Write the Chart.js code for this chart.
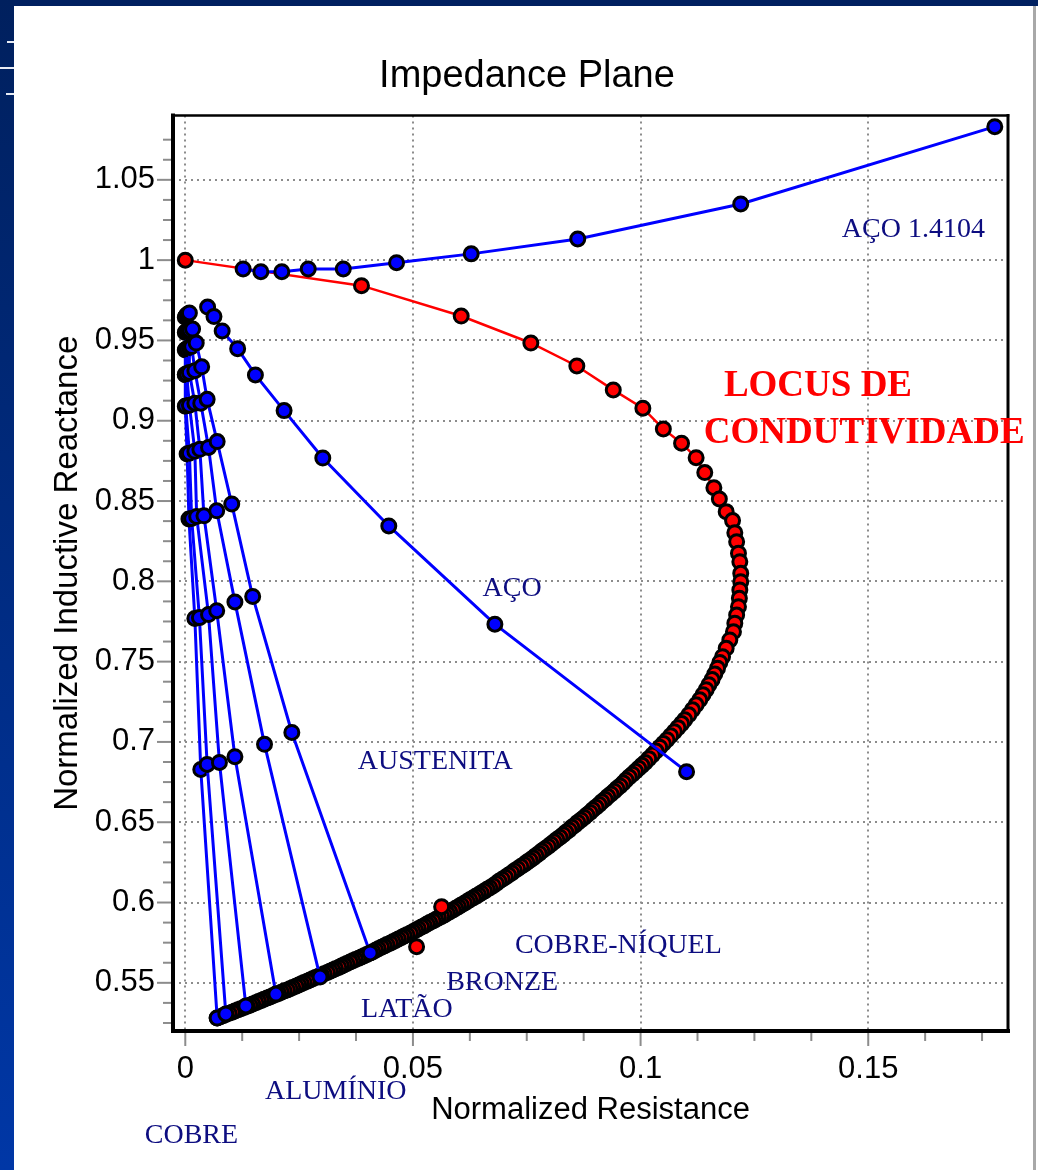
<!DOCTYPE html>
<html lang="pt-BR">
<head>
<meta charset="UTF-8">
<title>Impedance Plane</title>
<script src="https://cdn.jsdelivr.net/npm/chart.js@4.4.1/dist/chart.umd.min.js"></script>
<style>
  body { margin: 0; background: #fff; }
  .slide { position: relative; width: 1038px; height: 1170px; overflow: hidden; background: #fff; }
  .slide canvas { position: absolute; left: 0; top: 0; }
  .faixa-topo { position: absolute; left: 0; top: 0; width: 1038px; height: 6px; background: #002060; }
  .faixa-esq { position: absolute; left: 0; top: 0; width: 14px; height: 1170px; background: linear-gradient(#00205e, #0037a6); }
  .linha-dir { position: absolute; left: 1033px; top: 6px; width: 3px; height: 1164px; background: #a8a8a8; }
  .risco { position: absolute; height: 2px; background: #e8ecf5; }
</style>
</head>
<body>
<div class="slide">
  <canvas id="graficoImpedancia" width="1038" height="1170"></canvas>
  <div class="faixa-topo"></div>
  <div class="faixa-esq"></div>
  <div class="linha-dir"></div>
  <!-- pedacos de texto cortados na borda do slide -->
  <div class="risco" style="left:7px; top:41px; width:7px;"></div>
  <div class="risco" style="left:0; top:67px; width:14px;"></div>
  <div class="risco" style="left:6px; top:93px; width:8px;"></div>
</div>
<script>
// rotulos dos eixos
const xTickLabels = ['0', '0.05', '0.1', '0.15'];
const yTickLabels = ['0.55', '0.6', '0.65', '0.7', '0.75', '0.8', '0.85', '0.9', '0.95', '1', '1.05'];

// locus de condutividade (resistencia / reatancia normalizadas)
// no fim da curva os pontos ficam tao juntos que viram uma faixa preta
const locusR = [0, 0.0387, 0.0606, 0.0759, 0.0860, 0.0940, 0.1005, 0.1050, 0.1090, 0.1122, 0.1141, 0.1161, 0.1173, 0.1188, 0.1202,
  0.1207, 0.1211, 0.1215, 0.1218, 0.1220, 0.1220, 0.1218, 0.1217, 0.1215, 0.1211, 0.1207, 0.1204, 0.1196, 0.1188, 0.1180,
  0.1174, 0.1169, 0.1163, 0.1157,
  0.1150, 0.1144, 0.1137, 0.1130,
  0.1122, 0.1114, 0.1106, 0.1097,
  0.1090, 0.1082, 0.1074, 0.1066, 0.1058,
  0.1050, 0.1042, 0.1034, 0.1026, 0.1018, 0.1010,
  0.1003, 0.0996, 0.0989, 0.0982, 0.0975, 0.0968, 0.0962, 0.0955,
  0.0948, 0.0942, 0.0935, 0.0928, 0.0922, 0.0915, 0.0909, 0.0902, 0.0895, 0.0889,
  0.0882, 0.0876, 0.0869, 0.0862, 0.0856, 0.0849, 0.0843, 0.0836, 0.0830, 0.0823,
  0.0816, 0.0810, 0.0803, 0.0797, 0.0790, 0.0783, 0.0777, 0.0770, 0.0764, 0.0757,
  0.0750, 0.0744, 0.0737, 0.0730, 0.0723, 0.0717, 0.0710, 0.0703, 0.0696, 0.0689, 0.0683, 0.0676, 0.0669,
  0.0663, 0.0657, 0.0650, 0.0644, 0.0638, 0.0632, 0.0625, 0.0619, 0.0613, 0.0606, 0.0600, 0.0594, 0.0588, 0.0581,
  0.0575, 0.0569, 0.0563, 0.0556, 0.0550, 0.0544, 0.0537, 0.0531, 0.0525, 0.0519, 0.0512, 0.0506, 0.0500, 0.0494,
  0.0487, 0.0481, 0.0475, 0.0468, 0.0462, 0.0456, 0.0450, 0.0443, 0.0437, 0.0431, 0.0424, 0.0418, 0.0412, 0.0406,
  0.0399, 0.0393, 0.0387, 0.0381, 0.0374, 0.0368, 0.0362, 0.0355, 0.0349, 0.0343, 0.0337, 0.0330, 0.0324, 0.0318,
  0.0312, 0.0305, 0.0299, 0.0293, 0.0286, 0.0280, 0.0274, 0.0268, 0.0261, 0.0255, 0.0249, 0.0243, 0.0236, 0.0230,
  0.0224, 0.0217, 0.0211, 0.0205, 0.0199, 0.0192, 0.0186, 0.0180, 0.0173, 0.0167, 0.0161, 0.0155, 0.0148, 0.0142,
  0.0136, 0.0129, 0.0122, 0.0116, 0.0109, 0.0103, 0.0096, 0.0089, 0.0083, 0.0076, 0.0070];
const locusX = [1.0, 0.9841, 0.9652, 0.9484, 0.9341, 0.9192, 0.9078, 0.8949, 0.8860, 0.8770, 0.8677, 0.8583, 0.8513, 0.8434, 0.8378,
  0.8303, 0.8247, 0.8175, 0.8122, 0.8050, 0.7998, 0.7946, 0.7894, 0.7842, 0.7790, 0.7739, 0.7686, 0.7635, 0.7583, 0.7531,
  0.7495, 0.7459, 0.7423, 0.7388,
  0.7356, 0.7325, 0.7294, 0.7262,
  0.7231, 0.7200, 0.7169, 0.7138,
  0.7114, 0.7089, 0.7064, 0.7039, 0.7014,
  0.6990, 0.6967, 0.6943, 0.6919, 0.6896, 0.6872,
  0.6854, 0.6836, 0.6817, 0.6799, 0.6781, 0.6763, 0.6744, 0.6726,
  0.6710, 0.6693, 0.6676, 0.6660, 0.6643, 0.6627, 0.6610, 0.6594, 0.6577, 0.6561,
  0.6545, 0.6530, 0.6514, 0.6499, 0.6483, 0.6468, 0.6452, 0.6437, 0.6422, 0.6406,
  0.6392, 0.6378, 0.6363, 0.6349, 0.6335, 0.6321, 0.6306, 0.6292, 0.6278, 0.6264,
  0.6250, 0.6237, 0.6224, 0.6211, 0.6198, 0.6184, 0.6171, 0.6158, 0.6145, 0.6132, 0.6119, 0.6105, 0.6092,
  0.6082, 0.6071, 0.6060, 0.6049, 0.6039, 0.6028, 0.6017, 0.6006, 0.5996, 0.5985, 0.5974, 0.5964, 0.5953, 0.5942,
  0.5933, 0.5923, 0.5913, 0.5904, 0.5894, 0.5885, 0.5875, 0.5866, 0.5856, 0.5847, 0.5837, 0.5827, 0.5818, 0.5808,
  0.5800, 0.5791, 0.5782, 0.5773, 0.5764, 0.5756, 0.5747, 0.5738, 0.5729, 0.5721, 0.5712, 0.5703, 0.5694, 0.5686,
  0.5677, 0.5669, 0.5661, 0.5653, 0.5645, 0.5637, 0.5629, 0.5620, 0.5612, 0.5604, 0.5596, 0.5588, 0.5580, 0.5572,
  0.5564, 0.5556, 0.5548, 0.5541, 0.5533, 0.5525, 0.5517, 0.5510, 0.5502, 0.5494, 0.5487, 0.5479, 0.5471, 0.5463,
  0.5456, 0.5449, 0.5441, 0.5434, 0.5427, 0.5420, 0.5412, 0.5405, 0.5398, 0.5390, 0.5383, 0.5376, 0.5368, 0.5361,
  0.5354, 0.5347, 0.5339, 0.5332, 0.5325, 0.5317, 0.5310, 0.5303, 0.5295, 0.5288, 0.5281];

// pontos vermelhos avulsos
const avulsoR = [0.0563, 0.0508];
const avulsoX = [0.5974, 0.5725];

// aço 1.4104
const aco14104R = [0.0127, 0.0166, 0.0212, 0.0270, 0.0347, 0.0464, 0.0628, 0.0862, 0.1220, 0.1778];
const aco14104X = [0.9945, 0.9928, 0.9928, 0.9945, 0.9945, 0.9984, 1.0039, 1.0132, 1.0350, 1.0831];

// aço
const acoR = [0.0049, 0.0063, 0.0081, 0.0115, 0.0154, 0.0217, 0.0302, 0.0447, 0.0680, 0.1101];
const acoX = [0.9708, 0.9649, 0.9559, 0.9449, 0.9285, 0.9063, 0.8768, 0.8345, 0.7733, 0.6815];

// materiais nao magneticos
const austenitaR = [0.0009, 0.0016, 0.0024, 0.0036, 0.0048, 0.0070, 0.0102, 0.0148, 0.0234, 0.0406];
const austenitaX = [0.9671, 0.9571, 0.9484, 0.9336, 0.9133, 0.8870, 0.8482, 0.7906, 0.7059, 0.5686];
const cuniR = [0.0005, 0.0010, 0.0014, 0.0021, 0.0034, 0.0051, 0.0069, 0.0109, 0.0174, 0.0296];
const cuniX = [0.9663, 0.9563, 0.9462, 0.9312, 0.9109, 0.8834, 0.8439, 0.7872, 0.6985, 0.5536];
const bronzeR = [0.0003, 0.0006, 0.0009, 0.0009, 0.0021, 0.0032, 0.0041, 0.0069, 0.0109, 0.0199];
const bronzeX = [0.9657, 0.9558, 0.9456, 0.9301, 0.9109, 0.8822, 0.8408, 0.7817, 0.6908, 0.5430];
const lataoR = [0.0002, 0.0003, 0.0004, 0.0003, 0.0009, 0.0021, 0.0025, 0.0051, 0.0075, 0.0133];
const lataoX = [0.9652, 0.9555, 0.9448, 0.9292, 0.9097, 0.8810, 0.8403, 0.7793, 0.6872, 0.5356];
const aluminioR = [0.0001, 0.0001, 0.0001, 0.0000, 0.0001, 0.0009, 0.0014, 0.0031, 0.0048, 0.0089];
const aluminioX = [0.9648, 0.9552, 0.9444, 0.9288, 0.9092, 0.8798, 0.8391, 0.7774, 0.6860, 0.5306];
const cobreR = [0.0000, 0.0000, 0.0000, 0.0000, 0.0000, 0.0004, 0.0008, 0.0021, 0.0034, 0.0070];
const cobreX = [0.9645, 0.9550, 0.9441, 0.9286, 0.9090, 0.8793, 0.8388, 0.7769, 0.6829, 0.5281];

const azulEscuro = '#0d0d80';
const fonteSerif = '"Liberation Serif", "Times New Roman", serif';
const fonteSans = '"Liberation Sans", Arial, sans-serif';

// textos escritos sobre o grafico (posicao em unidades dos eixos, canto esquerdo / linha de base)
const anotacoes = [
  { texto: 'AÇO 1.4104', res: 0.1442, reat: 1.0146, cor: azulEscuro, fonte: '28px ' + fonteSerif },
  { texto: 'LOCUS DE', res: 0.1183, reat: 0.9154, cor: '#ff0000', fonte: 'bold 37px ' + fonteSerif },
  { texto: 'CONDUTIVIDADE', res: 0.1139, reat: 0.8862, cor: '#ff0000', fonte: 'bold 37px ' + fonteSerif },
  { texto: 'AÇO', res: 0.0653, reat: 0.7909, cor: azulEscuro, fonte: '28px ' + fonteSerif },
  { texto: 'AUSTENITA', res: 0.0379, reat: 0.6831, cor: azulEscuro, fonte: '28px ' + fonteSerif },
  { texto: 'COBRE-NÍQUEL', res: 0.0724, reat: 0.5686, cor: azulEscuro, fonte: '28px ' + fonteSerif },
  { texto: 'BRONZE', res: 0.0573, reat: 0.5455, cor: azulEscuro, fonte: '28px ' + fonteSerif },
  { texto: 'LATÃO', res: 0.0386, reat: 0.5287, cor: azulEscuro, fonte: '28px ' + fonteSerif },
  { texto: 'ALUMÍNIO', res: 0.0175, reat: 0.4776, cor: azulEscuro, fonte: '28px ' + fonteSerif },
  { texto: 'COBRE', res: -0.0089, reat: 0.4502, cor: azulEscuro, fonte: '28px ' + fonteSerif }
];

function pontos(r, x) {
  return r.map((v, i) => ({ x: v, y: x[i] }));
}

function serieAzul(nome, r, x) {
  return {
    label: nome,
    data: pontos(r, x),
    showLine: true,
    borderColor: '#0000ff',
    borderWidth: 3,
    pointBackgroundColor: '#0000ff',
    pointBorderColor: '#000',
    pointBorderWidth: 3,
    pointRadius: 7
  };
}

// marcas principais (com rotulo) e secundarias a cada 0.0125
function gerarMarcas(rotulos, passo, min, max) {
  const maiores = rotulos.map(Number);
  const lista = [];
  const inicio = maiores[0] - passo * Math.floor((maiores[0] - min) / passo);
  for (let v = inicio; v <= max - 0.003; v += passo) {
    if (v < min + 0.002) continue;
    const valor = Math.round(v * 10000) / 10000;
    lista.push({ value: valor, maior: maiores.some(m => Math.abs(m - valor) < 1e-6) });
  }
  return lista;
}

function rotuloDe(valor, rotulos) {
  const achado = rotulos.find(t => Math.abs(Number(t) - valor) < 1e-6);
  return achado === undefined ? '' : achado;
}

const corGrade = c => (c.tick && c.tick.maior) ? '#8c8c8c' : 'rgba(0,0,0,0)';

const molduraPlugin = {
  id: 'moldura',
  beforeDatasetsDraw(chart) {
    const { ctx, chartArea: a, scales } = chart;
    ctx.save();
    ctx.strokeStyle = '#8c8c8c';
    ctx.lineWidth = 2;
    scales.x.ticks.forEach(t => {
      const px = scales.x.getPixelForValue(t.value);
      ctx.beginPath();
      ctx.moveTo(px, a.bottom);
      ctx.lineTo(px, a.bottom + (t.maior ? 15 : 10));
      ctx.stroke();
    });
    scales.y.ticks.forEach(t => {
      const py = scales.y.getPixelForValue(t.value);
      ctx.beginPath();
      ctx.moveTo(a.left, py);
      ctx.lineTo(a.left - (t.maior ? 16 : 10), py);
      ctx.stroke();
    });
    // caixa preta em volta da area do grafico
    ctx.strokeStyle = '#000';
    ctx.lineCap = 'square';
    const linha = (x1, y1, x2, y2, w) => {
      ctx.lineWidth = w;
      ctx.beginPath();
      ctx.moveTo(x1, y1);
      ctx.lineTo(x2, y2);
      ctx.stroke();
    };
    linha(a.left, a.top, a.right, a.top, 2.5);
    linha(a.right, a.top, a.right, a.bottom, 3);
    linha(a.left, a.bottom, a.right, a.bottom, 4);
    linha(a.left, a.top, a.left, a.bottom, 4);
    ctx.restore();
  },
  afterDraw(chart) {
    const { ctx, scales } = chart;
    ctx.save();
    ctx.textAlign = 'left';
    ctx.textBaseline = 'alphabetic';
    anotacoes.forEach(n => {
      ctx.font = n.fonte;
      ctx.fillStyle = n.cor;
      ctx.fillText(n.texto, scales.x.getPixelForValue(n.res), scales.y.getPixelForValue(n.reat));
    });
    ctx.restore();
  }
};

function criarGrafico() {
  const canvas = document.getElementById('graficoImpedancia');
  if (!canvas) return;

  Chart.defaults.font.family = fonteSans;
  Chart.defaults.color = '#000';

  new Chart(canvas.getContext('2d'), {
    type: 'scatter',
    data: {
      datasets: [
        {
          label: 'Pontos',
          data: pontos(avulsoR, avulsoX),
          pointBackgroundColor: '#ff0000',
          pointBorderColor: '#000',
          pointBorderWidth: 3,
          pointRadius: 7
        },
        serieAzul('AÇO 1.4104', aco14104R, aco14104X),
        serieAzul('AÇO', acoR, acoX),
        serieAzul('AUSTENITA', austenitaR, austenitaX),
        serieAzul('COBRE-NÍQUEL', cuniR, cuniX),
        serieAzul('BRONZE', bronzeR, bronzeX),
        serieAzul('LATÃO', lataoR, lataoX),
        serieAzul('ALUMÍNIO', aluminioR, aluminioX),
        serieAzul('COBRE', cobreR, cobreX),
        {
          label: 'Locus de condutividade',
          data: pontos(locusR, locusX),
          showLine: true,
          borderColor: '#ff0000',
          borderWidth: 2.5,
          pointBackgroundColor: '#ff0000',
          pointBorderColor: '#000',
          pointBorderWidth: 3,
          pointRadius: 7
        }
      ]
    },
    options: {
      responsive: false,
      animation: false,
      events: [],
      layout: { padding: { left: 46, right: 30, top: 0, bottom: 0 } },
      plugins: {
        legend: { display: false },
        tooltip: { enabled: false },
        title: {
          display: true,
          text: 'Impedance Plane',
          color: '#000',
          font: { size: 38, weight: 'normal' },
          padding: { top: 54, bottom: 16 }
        }
      },
      scales: {
        x: {
          type: 'linear',
          min: -0.0027,
          max: 0.1807,
          afterBuildTicks: s => { s.ticks = gerarMarcas(xTickLabels, 0.0125, -0.0027, 0.1807); },
          afterFit: s => { s.height = 139; },
          ticks: {
            autoSkip: false,
            maxRotation: 0,
            padding: 20,
            color: '#000',
            font: { size: 31 },
            callback: v => rotuloDe(v, xTickLabels)
          },
          grid: { color: corGrade, lineWidth: 2, drawTicks: false },
          border: { display: false, dash: [2, 4] },
          title: {
            display: true,
            text: 'Normalized Resistance',
            color: '#000',
            font: { size: 31 },
            padding: { top: 0, bottom: 41 }
          }
        },
        y: {
          type: 'linear',
          min: 0.52,
          max: 1.09,
          afterBuildTicks: s => { s.ticks = gerarMarcas(yTickLabels, 0.0125, 0.52, 1.09); },
          afterFit: s => { s.width = 127; },
          ticks: {
            autoSkip: false,
            padding: 18,
            color: '#000',
            font: { size: 31 },
            callback: v => rotuloDe(v, yTickLabels)
          },
          grid: { color: corGrade, lineWidth: 2, drawTicks: false },
          border: { display: false, dash: [2, 4] },
          title: {
            display: true,
            text: 'Normalized Inductive Reactance',
            color: '#000',
            font: { size: 33 },
            padding: { top: 2, bottom: 0 }
          }
        }
      }
    },
    plugins: [molduraPlugin]
  });
}

criarGrafico();
</script>
</body>
</html>
